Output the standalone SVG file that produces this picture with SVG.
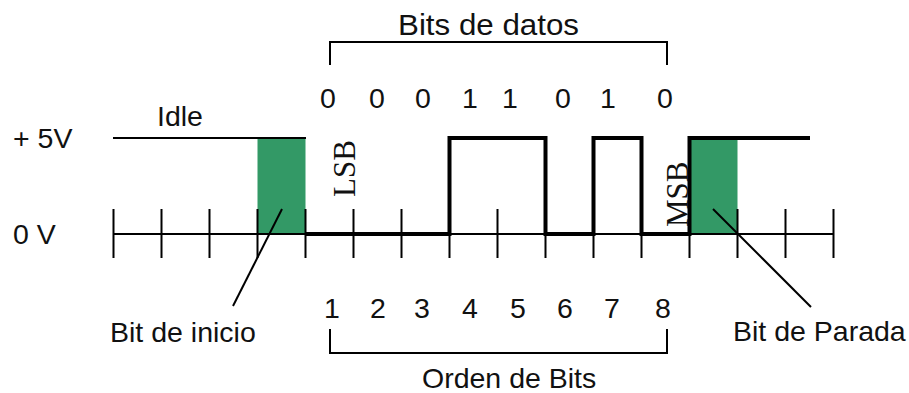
<svg xmlns="http://www.w3.org/2000/svg" width="909" height="393" viewBox="0 0 909 393">
  <style>
    .lbl { font-family: "Liberation Sans", Arial, sans-serif; font-size: 28.5px; fill: #111; }
    .mid { text-anchor: middle; }
    .ser { font-family: "Liberation Serif", "Times New Roman", serif; font-size: 31px; fill: #111; }
    .thin { stroke: #000; stroke-width: 2; fill: none; }
    .sig { stroke: #000; stroke-width: 4; fill: none; stroke-linejoin: miter; }
    .bit { fill: #339966; }
  </style>

  <!-- highlighted start and stop bits -->
  <g id="start-bit"><rect class="bit" x="257.5" y="138" width="48" height="96"/></g>
  <g id="stop-bit"><rect class="bit" x="689.5" y="138" width="48" height="96"/></g>

  <!-- time axis with ticks -->
  <g id="axis">
    <line class="thin" x1="113" y1="234" x2="834" y2="234"/>
    <path class="thin" d="M113.5,209V258 M161.5,209V258 M209.5,209V258 M257.5,209V258 M305.5,209V258 M353.5,209V258 M401.5,209V258 M449.5,209V258 M497.5,209V258 M545.5,209V258 M593.5,209V258 M641.5,209V258 M689.5,209V258 M737.5,209V258 M785.5,209V258 M833.5,209V258"/>
  </g>

  <!-- line levels -->
  <g id="idle-line"><line class="thin" x1="113" y1="138" x2="306" y2="138"/></g>
  <g id="signal"><path class="sig" d="M305.5,234H449.5V138H545.5V234H593.5V138H641.5V234H689.5V138H810"/></g>

  <!-- callouts and brackets -->
  <g id="connectors">
    <line class="thin" x1="282" y1="209" x2="233" y2="306"/>
    <line class="thin" x1="713" y1="209" x2="811" y2="307"/>
    <path class="thin" d="M330,65V42H667V65"/>
    <path class="thin" d="M330,329V353H667V329"/>
  </g>

  <!-- level labels -->
  <g id="levels">
    <text class="lbl" x="13" y="148">+ 5V</text>
    <text class="lbl" x="13" y="244">0 V</text>
    <text class="lbl" x="157" y="126">Idle</text>
  </g>

  <!-- data bits -->
  <g id="data-bits">
    <text class="lbl" x="398" y="35" style="font-size:30px" textLength="181" lengthAdjust="spacingAndGlyphs">Bits de datos</text>
    <text class="lbl mid" x="328" y="108">0</text>
    <text class="lbl mid" x="377" y="108">0</text>
    <text class="lbl mid" x="423" y="108">0</text>
    <text class="lbl mid" x="470" y="108">1</text>
    <text class="lbl mid" x="510" y="108">1</text>
    <text class="lbl mid" x="563" y="108">0</text>
    <text class="lbl mid" x="608" y="108">1</text>
    <text class="lbl mid" x="665" y="108">0</text>
  </g>

  <!-- bit order -->
  <g id="bit-order">
    <text class="lbl mid" x="332" y="318">1</text>
    <text class="lbl mid" x="378" y="318">2</text>
    <text class="lbl mid" x="422" y="318">3</text>
    <text class="lbl mid" x="470" y="318">4</text>
    <text class="lbl mid" x="518" y="318">5</text>
    <text class="lbl mid" x="565" y="318">6</text>
    <text class="lbl mid" x="612" y="318">7</text>
    <text class="lbl mid" x="663" y="318">8</text>
    <text class="lbl" x="422" y="388">Orden de Bits</text>
  </g>

  <!-- significance markers -->
  <g id="lsb"><text class="ser" transform="translate(355,197) rotate(-90)">LSB</text></g>
  <g id="msb"><text class="ser" transform="translate(688,227) rotate(-90)">MSB</text></g>

  <!-- bit names -->
  <g id="start-label"><text class="lbl" x="110" y="342">Bit de inicio</text></g>
  <g id="stop-label"><text class="lbl" x="733" y="341">Bit de Parada</text></g>
</svg>
